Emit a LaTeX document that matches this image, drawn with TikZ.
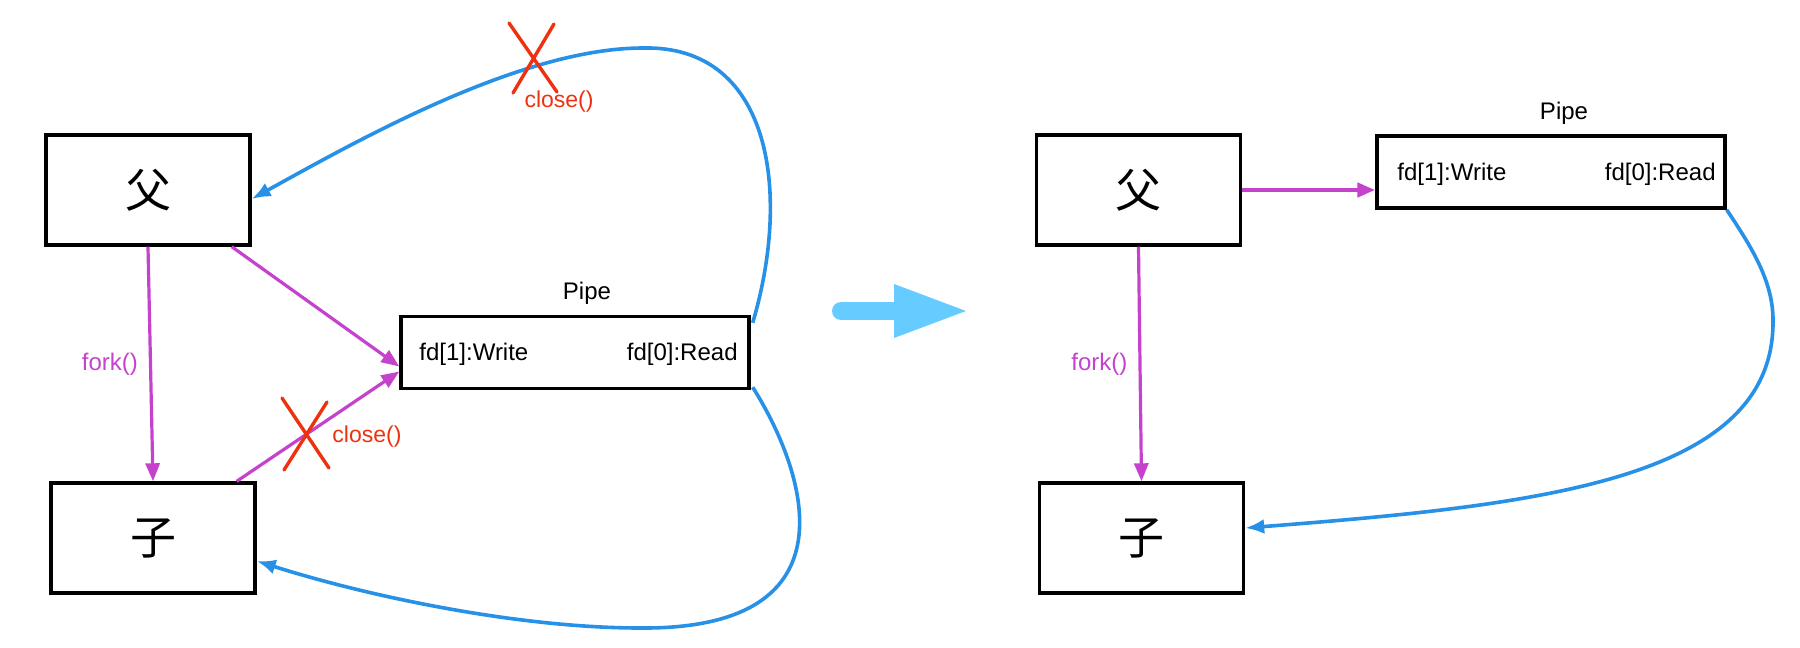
\documentclass[tikz,border=0pt]{standalone}
\usepackage{fontspec}
\setmainfont{Liberation Sans}
\newfontfamily\cjk{Noto Sans CJK SC}
\usetikzlibrary{arrows.meta,positioning,calc}
\definecolor{forkc}{RGB}{196,66,204}
\definecolor{pipec}{RGB}{38,145,230}
\definecolor{closec}{RGB}{238,50,16}
\definecolor{stepc}{RGB}{102,204,255}
\tikzset{
    proc/.style={
        rectangle,
        draw=black,
        line width=1.7pt,
        minimum width=102pt,
        minimum height=55pt,
        font=\cjk\fontsize{23pt}{23pt}\selectfont,
    },
    pipebox/.style={
        rectangle,
        draw=black,
        line width=1.7pt,
        minimum width=174pt,
        minimum height=36pt,
    },
    txt/.style={
        font=\fontsize{12pt}{14pt}\selectfont,
        inner sep=0pt,
    },
    closetxt/.style={
        text=closec,
        font=\fontsize{11.5pt}{13pt}\selectfont,
        inner sep=0pt,
    },
    forkline/.style={draw=forkc, line width=1.6pt, -{Triangle[length=9pt,width=7pt]}},
    readline/.style={draw=pipec, line width=1.8pt, -{Latex[length=9.5pt,width=7.5pt]}},
    cross/.style={draw=closec, line width=1.7pt, line cap=round},
}

\begin{document}
\begin{tikzpicture}[x=0.5pt,y=-0.5pt]
    \useasboundingbox (0,0) rectangle (1800,648);
    % before
    \node [proc] (fatherL) at (148,190) {父};
    \node [proc] (childL) at (153,538) {子};
    \node [pipebox] (pipeL) at (575,352.5) {};
    \node [txt,anchor=west] (writeL) at (419,354) {fd[1]:Write};
    \node [txt,anchor=east] (readL) at (738,354) {fd[0]:Read};
    \node [txt] (pipeTagL) at (587,293) {Pipe};
    \path[forkline] (fatherL.south) -- node [txt,text=forkc,left=5.5pt] (forkL) {fork()} (childL.north);
    \path[forkline] ([xshift=-10pt]fatherL.south east) -- ([yshift=-7pt]pipeL.west);
    \path[forkline] ([xshift=-10pt]childL.north east) -- ([yshift=-9.5pt]pipeL.west);
    \path[readline] ($(pipeL.north east)+(2,8)$) .. controls (792,190) and (770,45) .. (643,48)
        .. controls (520,48) and (355,142) .. ([yshift=-4.5pt]fatherL.east);
    \path[readline] ($(pipeL.south east)+(2,-3)$) .. controls (805,470) and (860,630) .. (640,628)
        .. controls (520,628) and (370,597) .. ([yshift=-11.5pt]childL.east);
    \coordinate (xTop) at (533,58);
    \coordinate (xBot) at (305,434);
    \draw[cross] (xTop) +(-24,-35) -- +(24,34) (xTop) +(21,-34) -- +(-20,35);
    \draw[cross] (xBot) +(-23,-36) -- +(24,34) (xBot) +(22,-32) -- +(-21,36);
    \node [closetxt] (closeTop) at (559,102) {close()};
    \node [closetxt] (closeBot) at (367,437) {close()};
    % step arrow
    \draw[stepc,line width=9pt,line cap=round] (841,311) -- (896,311);
    \fill[stepc] (894,284) -- (966,311) -- (894,338) -- cycle;
    % after
    \node [proc] (fatherR) at (1138.5,190) {父};
    \node [proc] (childR) at (1141.5,538) {子};
    \node [pipebox] (pipeR) at (1551,172) {};
    \node [txt,anchor=west] (writeR) at (1397,174) {fd[1]:Write};
    \node [txt,anchor=east] (readR) at (1716,174) {fd[0]:Read};
    \node [txt] (pipeTagR) at (1564,113) {Pipe};
    \path[forkline] (fatherR.south) -- node [txt,text=forkc,left=5.5pt] (forkR) {fork()} (childR.north);
    \path[forkline,line width=2.2pt] (fatherR.east) -- (fatherR.east -| pipeR.west);
    \path[readline] (pipeR.south east) .. controls (1750,245) and (1773,280) .. (1773,320)
        .. controls (1775,480) and (1540,505) .. ([yshift=5pt]childR.east);
\end{tikzpicture}
\end{document}
